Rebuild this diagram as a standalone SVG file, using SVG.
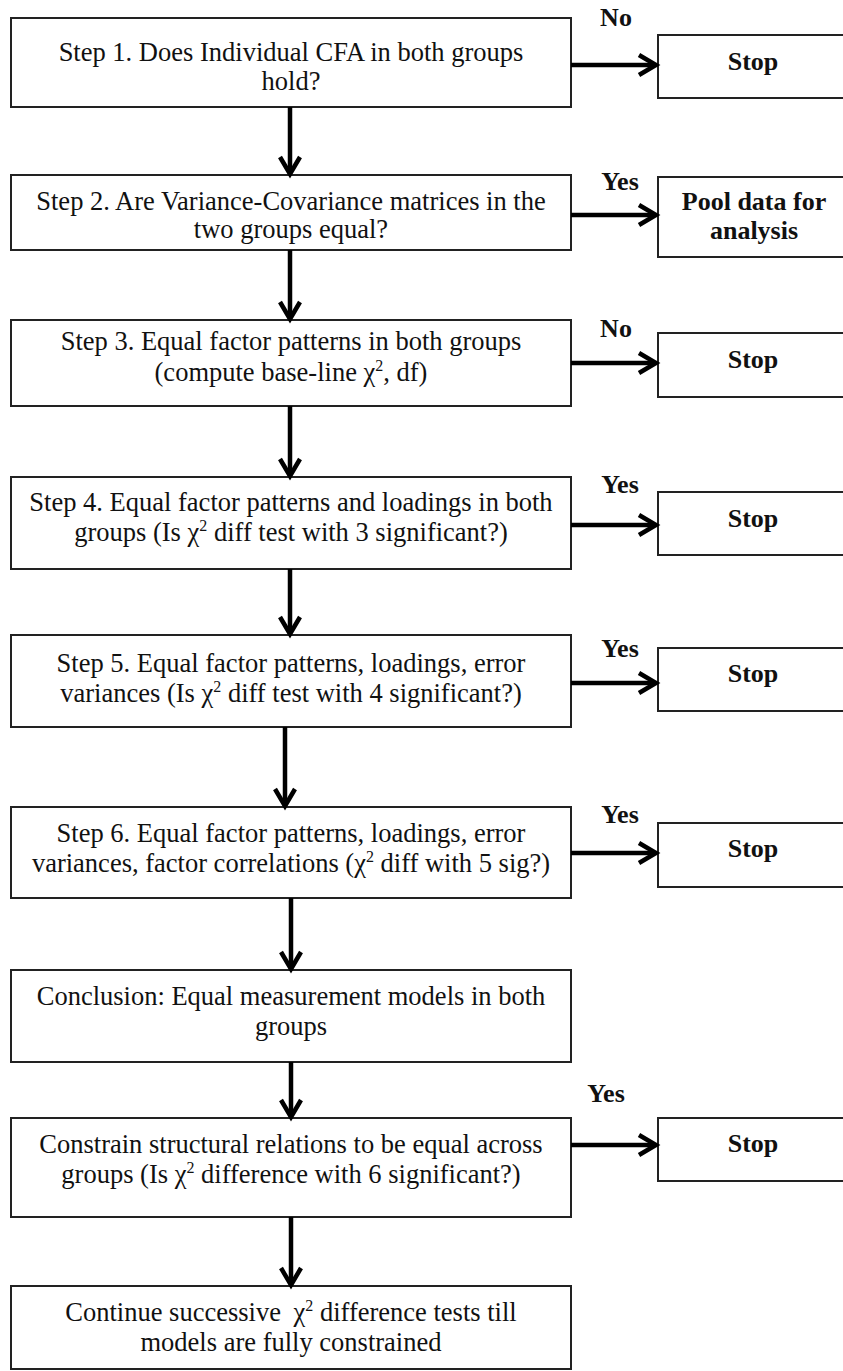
<svg xmlns="http://www.w3.org/2000/svg" width="843" height="1371" viewBox="0 0 843 1371">
<style>
.box{fill:#fff;stroke:#222;stroke-width:2}
.t{font-family:"Liberation Serif","Times New Roman",Times,"DejaVu Serif",serif;font-size:26.5px;fill:#111;text-anchor:middle}
.b{font-family:"Liberation Serif","Times New Roman",Times,"DejaVu Serif",serif;font-size:26px;font-weight:bold;fill:#111;text-anchor:middle}
.ln{stroke:#000;stroke-width:4.5;fill:none}
.hd{stroke:#000;stroke-width:4.5;fill:none;stroke-linejoin:miter;stroke-linecap:butt}
.sup{font-size:16px}
</style>
<rect width="843" height="1371" fill="#fff"/>
<g id="step1"><rect class="box" x="11" y="18" width="560" height="89"/>
<text class="t" x="291" y="61">Step 1. Does Individual CFA in both groups</text>
<text class="t" x="291" y="90">hold?</text></g>
<g id="stop1"><rect class="box" x="658" y="35" width="200" height="63"/><text class="b" x="753" y="70">Stop</text></g>
<g id="step2"><rect class="box" x="11" y="175" width="560" height="75"/>
<text class="t" x="291" y="210">Step 2. Are Variance-Covariance matrices in the</text>
<text class="t" x="291" y="238">two groups equal?</text></g>
<g id="pool"><rect class="box" x="658" y="177" width="200" height="80"/><text class="b" x="754" y="210">Pool data for</text><text class="b" x="754" y="239">analysis</text></g>
<g id="step3"><rect class="box" x="11" y="320" width="560" height="86"/>
<text class="t" x="291" y="350">Step 3. Equal factor patterns in both groups</text>
<text class="t" x="291" y="381">(compute base-line χ<tspan class="sup" dy="-10">2</tspan><tspan dy="10">, df)</tspan></text></g>
<g id="stop3"><rect class="box" x="658" y="333" width="200" height="64"/><text class="b" x="753" y="368">Stop</text></g>
<g id="step4"><rect class="box" x="11" y="477" width="560" height="92"/>
<text class="t" x="291" y="511">Step 4. Equal factor patterns and loadings in both</text>
<text class="t" x="291" y="541">groups (Is χ<tspan class="sup" dy="-10">2</tspan><tspan dy="10"> diff test with 3 significant?)</tspan></text></g>
<g id="stop4"><rect class="box" x="658" y="492" width="200" height="63"/><text class="b" x="753" y="527">Stop</text></g>
<g id="step5"><rect class="box" x="11" y="635" width="560" height="92"/>
<text class="t" x="291" y="672">Step 5. Equal factor patterns, loadings, error</text>
<text class="t" x="291" y="702">variances (Is χ<tspan class="sup" dy="-10">2</tspan><tspan dy="10"> diff test with 4 significant?)</tspan></text></g>
<g id="stop5"><rect class="box" x="658" y="648" width="200" height="63"/><text class="b" x="753" y="682">Stop</text></g>
<g id="step6"><rect class="box" x="11" y="807" width="560" height="91"/>
<text class="t" x="291" y="842">Step 6. Equal factor patterns, loadings, error</text>
<text class="t" x="291" y="872">variances, factor correlations (χ<tspan class="sup" dy="-10">2</tspan><tspan dy="10"> diff with 5 sig?)</tspan></text></g>
<g id="stop6"><rect class="box" x="658" y="823" width="200" height="64"/><text class="b" x="753" y="857">Stop</text></g>
<g id="conclusion"><rect class="box" x="11" y="970" width="560" height="92"/>
<text class="t" x="291" y="1005">Conclusion: Equal measurement models in both</text>
<text class="t" x="291" y="1035">groups</text></g>
<g id="constrain"><rect class="box" x="11" y="1118" width="560" height="99"/>
<text class="t" x="291" y="1153">Constrain structural relations to be equal across</text>
<text class="t" x="291" y="1183">groups (Is χ<tspan class="sup" dy="-10">2</tspan><tspan dy="10"> difference with 6 significant?)</tspan></text></g>
<g id="stop7"><rect class="box" x="658" y="1118" width="200" height="63"/><text class="b" x="753" y="1152">Stop</text></g>
<g id="continue"><rect class="box" x="11" y="1286" width="560" height="83"/>
<text class="t" x="291" y="1321">Continue successive <tspan dx="6">χ</tspan><tspan class="sup" dy="-10">2</tspan><tspan dy="10"> difference tests till</tspan></text>
<text class="t" x="291" y="1351">models are fully constrained</text></g>
<g id="labels">
<text class="b" x="616" y="26">No</text>
<text class="b" x="620" y="190">Yes</text>
<text class="b" x="616" y="337">No</text>
<text class="b" x="620" y="493">Yes</text>
<text class="b" x="620" y="657">Yes</text>
<text class="b" x="620" y="823">Yes</text>
<text class="b" x="606" y="1102">Yes</text>
</g>
<g id="connectors">
<path class="ln" d="M571 65H655"/><path class="hd" d="M639 55L656 65L639 75"/>
<path class="ln" d="M571 215H655"/><path class="hd" d="M639 205L656 215L639 225"/>
<path class="ln" d="M571 363H655"/><path class="hd" d="M639 353L656 363L639 373"/>
<path class="ln" d="M571 525H655"/><path class="hd" d="M639 515L656 525L639 535"/>
<path class="ln" d="M571 683H655"/><path class="hd" d="M639 673L656 683L639 693"/>
<path class="ln" d="M571 853H655"/><path class="hd" d="M639 843L656 853L639 863"/>
<path class="ln" d="M571 1145H655"/><path class="hd" d="M639 1135L656 1145L639 1155"/>
<path class="ln" d="M290 107V172"/><path class="hd" d="M280 157L290 174L300 157"/>
<path class="ln" d="M290 250V317"/><path class="hd" d="M280 302L290 319L300 302"/>
<path class="ln" d="M290 406V474"/><path class="hd" d="M280 459L290 476L300 459"/>
<path class="ln" d="M290 569V632"/><path class="hd" d="M280 617L290 634L300 617"/>
<path class="ln" d="M285 727V804"/><path class="hd" d="M275 789L285 806L295 789"/>
<path class="ln" d="M291 898V967"/><path class="hd" d="M281 952L291 969L301 952"/>
<path class="ln" d="M291 1062V1115"/><path class="hd" d="M281 1100L291 1117L301 1100"/>
<path class="ln" d="M291 1217V1283"/><path class="hd" d="M281 1268L291 1285L301 1268"/>
</g>
</svg>
